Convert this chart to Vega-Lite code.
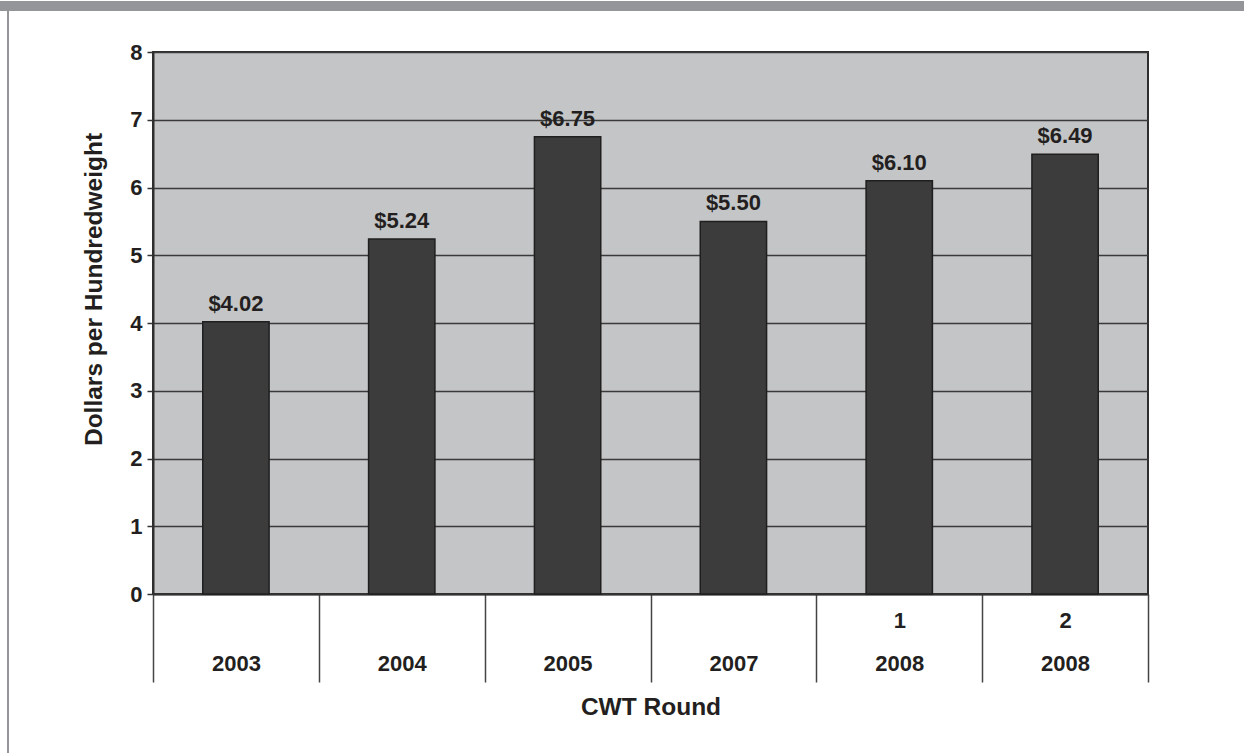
{
  "$schema": "https://vega.github.io/schema/vega-lite/v6.json",
  "background": "white",
  "padding": 0,
  "config": {
    "view": {"stroke": null},
    "font": "Liberation Sans",
    "text": {"font": "Liberation Sans"}
  },
  "spacing": 0,
  "vconcat": [
    {
      "width": 1244,
      "height": 10,
      "view": {"fill": "#939598", "stroke": null},
      "data": {"values": [{"k": 1}]},
      "mark": {"type": "text", "text": ""}
    },
    {
      "spacing": 0,
      "hconcat": [
        {
          "width": 7,
          "height": 743,
          "data": {"values": [{"k": 1}]},
          "mark": {"type": "text", "text": ""}
        },
        {
          "width": 2,
          "height": 743,
          "view": {"fill": "#939598", "stroke": null},
          "data": {"values": [{"k": 1}]},
          "mark": {"type": "text", "text": ""}
        },
        {
          "width": 71,
          "height": 743,
          "data": {"values": [{"k": 1}]},
          "mark": {"type": "text", "text": ""}
        },
        {
          "spacing": 0,
          "vconcat": [
            {
              "width": 10,
              "height": 29,
              "data": {"values": [{"k": 1}]},
              "mark": {"type": "text", "text": ""}
            },
            {
              "width": 995,
              "height": 542,
              "view": {"fill": "#c4c5c7", "stroke": "#2e2e2e", "strokeWidth": 2},
              "data": {
                "values": [
                  {"round": "|2003", "value": 4.02},
                  {"round": "|2004", "value": 5.24},
                  {"round": "|2005", "value": 6.75},
                  {"round": "|2007", "value": 5.50},
                  {"round": "1|2008", "value": 6.10},
                  {"round": "2|2008", "value": 6.49}
                ]
              },
              "encoding": {
                "x": {
                  "field": "round",
                  "type": "nominal",
                  "sort": null,
                  "scale": {"paddingInner": 0, "paddingOuter": 0},
                  "axis": {
                    "title": "CWT Round",
                    "titleFontSize": 24.5,
                    "titleFontWeight": "bold",
                    "titleColor": "#231f20",
                    "titlePadding": 13,
                    "labelExpr": "split(datum.label, '|')",
                    "labelFontSize": 22,
                    "labelFontWeight": "bold",
                    "labelColor": "#231f20",
                    "labelLineHeight": 43,
                    "labelAngle": 0,
                    "labelBaseline": "top",
                    "labelPadding": -72,
                    "tickBand": "extent",
                    "tickSize": 88,
                    "tickColor": "#444444",
                    "tickWidth": 1.5,
                    "domainColor": "#333333",
                    "domainWidth": 2
                  }
                },
                "y": {
                  "field": "value",
                  "type": "quantitative",
                  "scale": {"domain": [0, 8], "nice": false},
                  "axis": {
                    "title": "Dollars per Hundredweight",
                    "titleFontSize": 24.5,
                    "titleFontWeight": "bold",
                    "titleColor": "#231f20",
                    "titlePadding": 23,
                    "titleY": 237,
                    "values": [0, 1, 2, 3, 4, 5, 6, 7, 8],
                    "labelFontSize": 22,
                    "labelFontWeight": "bold",
                    "labelColor": "#231f20",
                    "labelPadding": 5,
                    "tickSize": 6,
                    "tickColor": "#333333",
                    "tickWidth": 1.5,
                    "domainColor": "#2e2e2e",
                    "domainWidth": 2,
                    "grid": true,
                    "gridColor": "#3a3a3a",
                    "gridWidth": 1.5
                  }
                }
              },
              "layer": [
                {
                  "mark": {"type": "bar", "width": {"band": 0.4}, "fill": "#3c3c3c", "stroke": "#1f1f1f", "strokeWidth": 1.5}
                },
                {
                  "mark": {"type": "text", "baseline": "bottom", "dy": -6, "fontSize": 22, "fontWeight": "bold", "color": "#231f20"},
                  "encoding": {"text": {"field": "value", "type": "quantitative", "format": "$.2f"}}
                }
              ]
            }
          ]
        }
      ]
    }
  ]
}
